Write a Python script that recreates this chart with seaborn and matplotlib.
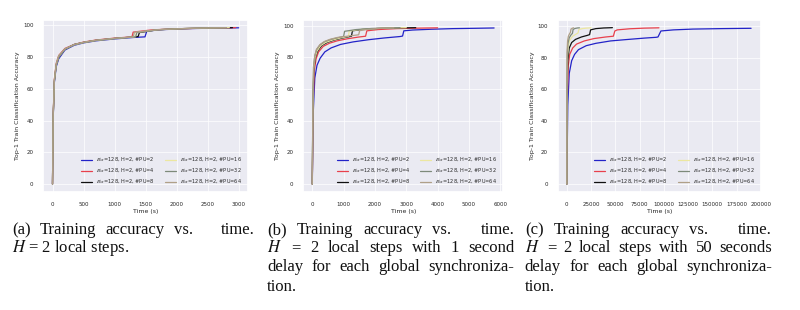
import numpy as np
import pandas as pd
import matplotlib
matplotlib.use("Agg")
import matplotlib.pyplot as plt
import seaborn as sns

# ---------------- data ----------------
labels = [r"$B_{loc}$=128, H=2, #PU=2", r"$B_{loc}$=128, H=2, #PU=4", r"$B_{loc}$=128, H=2, #PU=8",
          r"$B_{loc}$=128, H=2, #PU=16", r"$B_{loc}$=128, H=2, #PU=32", r"$B_{loc}$=128, H=2, #PU=64"]
colors = ["#2323c8", "#e8404c", "#111111", "#ece7a0", "#7d8a7a", "#b0a088"]

# panel (a): no delay
a_t = [
    [0, 10, 30, 60, 100, 200, 350, 500, 700, 1000, 1300, 1490, 1520, 1800, 2200, 2600, 3000],
    [0, 10, 30, 60, 100, 200, 350, 500, 700, 1000, 1280, 1300, 1600, 2000, 2500, 2950],
    [0, 10, 30, 60, 100, 200, 350, 500, 700, 1000, 1380, 1400, 1700, 2100, 2500, 2900],
    [0, 10, 30, 60, 100, 200, 350, 500, 700, 1000, 1330, 1350, 1700, 2100, 2500, 2850],
    [0, 10, 30, 60, 100, 200, 350, 500, 700, 1000, 1340, 1360, 1700, 2100, 2500, 2800],
    [0, 10, 30, 60, 100, 200, 350, 500, 700, 1000, 1300, 1320, 1700, 2100, 2500, 2800],
]
a_acc = [
    [0, 40, 64, 74, 79, 84.5, 87.5, 89, 90.3, 91.5, 92.4, 92.8, 96.5, 97.4, 98, 98.3, 98.5],
    [0, 42, 66, 76, 81, 85.5, 88, 89.5, 90.8, 92, 92.8, 95.8, 97.2, 97.9, 98.3, 98.6],
    [0, 41, 65, 75, 80, 85, 88, 89.3, 90.6, 91.8, 93, 95.5, 97.3, 98, 98.4, 98.6],
    [0, 41, 65, 75, 80, 85, 87.8, 89.2, 90.5, 91.7, 92.8, 95.6, 97.3, 98, 98.4, 98.6],
    [0, 41, 65, 75, 80, 85, 87.8, 89.2, 90.5, 91.7, 92.8, 95.6, 97.3, 98, 98.4, 98.6],
    [0, 42, 66, 76, 81, 85.3, 88, 89.4, 90.7, 91.9, 92.7, 95.7, 97.3, 98, 98.4, 98.6],
]

# panel (b): 1 s delay
b_t = [
    [0, 30, 80, 150, 250, 400, 600, 900, 1300, 1800, 2300, 2800, 2880, 2920, 3200, 3800, 4500, 5200, 5800],
    [0, 25, 60, 120, 200, 350, 550, 800, 1100, 1450, 1700, 1740, 2100, 2700, 3400, 4000],
    [0, 20, 50, 100, 170, 300, 480, 700, 950, 1250, 1280, 1600, 2100, 2700, 3300],
    [0, 20, 45, 90, 150, 270, 430, 650, 900, 1150, 1180, 1500, 2000, 2500, 3000],
    [0, 18, 40, 80, 140, 250, 400, 600, 850, 1000, 1030, 1400, 1900, 2400, 2800],
    [0, 18, 40, 80, 130, 240, 380, 560, 800, 1480, 1510, 1800, 2200, 2600],
]
b_acc = [
    [0, 45, 67, 75, 79.5, 83.5, 86, 88.2, 89.8, 91.2, 92.3, 93.2, 93.5, 96.8, 97.3, 97.8, 98.2, 98.4, 98.6],
    [0, 48, 71, 79, 83.5, 87, 89, 90.5, 91.7, 92.8, 93.4, 96.8, 97.6, 98.2, 98.5, 98.7],
    [0, 50, 73, 80, 84, 87.5, 89.5, 91, 92.2, 93.4, 96.8, 97.7, 98.3, 98.6, 98.8],
    [0, 50, 73, 80, 84, 87.5, 89.5, 91, 92.3, 93.3, 96.6, 97.6, 98.2, 98.6, 98.8],
    [0, 51, 74, 81, 85, 88, 90, 91.4, 92.6, 93.3, 96.5, 97.6, 98.3, 98.6, 98.8],
    [0, 51, 74, 81, 85, 88, 90, 91.4, 92.6, 94.3, 96.9, 97.8, 98.4, 98.7],
]

# panel (c): 50 s delay
c_t = [
    [0, 1000, 2500, 5000, 8000, 12000, 20000, 30000, 45000, 60000, 80000, 92000, 94000, 97000, 110000, 130000, 160000, 190000],
    [0, 500, 1500, 3000, 6000, 10000, 18000, 28000, 40000, 48000, 49500, 52000, 65000, 80000, 95000],
    [0, 300, 1000, 2500, 5000, 9000, 15000, 21000, 23500, 24500, 30000, 38000, 47000],
    [0, 200, 700, 1500, 3000, 6000, 10000, 11500, 12500, 16000, 20000, 25000],
    [0, 150, 500, 1200, 2500, 4500, 5800, 6500, 8500, 11000, 13000],
    [0, 100, 350, 800, 1600, 3000, 3700, 4300, 5500, 7000],
]
c_acc = [
    [0, 50, 70, 78, 82, 85, 87.5, 89, 90.5, 91.3, 92.3, 92.8, 93, 96.8, 97.5, 98, 98.3, 98.5],
    [0, 55, 75, 82, 86, 88.5, 90.5, 92, 93, 93.5, 96.8, 97.5, 98.2, 98.6, 98.8],
    [0, 60, 78, 86, 89.5, 91.5, 93, 94, 94.5, 97.5, 98.3, 98.7, 98.9],
    [0, 62, 80, 87, 91, 93.5, 95, 95.5, 97.8, 98.3, 98.6, 98.8],
    [0, 65, 83, 89, 92.5, 94.5, 95.3, 97.8, 98.4, 98.7, 98.8],
    [0, 68, 85, 90.5, 93.5, 95.3, 95.8, 98, 98.5, 98.8],
]

x_ticks = [
    [0, 500, 1000, 1500, 2000, 2500, 3000],
    [0, 1000, 2000, 3000, 4000, 5000, 6000],
    [0, 25000, 50000, 75000, 100000, 125000, 150000, 175000, 200000],
]
y_ticks = [0, 20, 40, 60, 80, 100]

captions = [
    ["(a) Training accuracy vs. time.", "$H$ = 2 local steps."],
    ["(b) Training accuracy vs. time.", "$H$ = 2 local steps with 1 second",
     "delay for each global synchroniza-", "tion."],
    ["(c) Training accuracy vs. time.", "$H$ = 2 local steps with 50 seconds",
     "delay for each global synchroniza-", "tion."],
]

# ---------------- plotting ----------------
sns.set_theme(style="darkgrid")
plt.rcParams["mathtext.fontset"] = "stix"

fig = plt.figure(figsize=(8.0, 3.1), dpi=100)
axes_pos = [
    [0.054, 0.381, 0.256, 0.555],
    [0.379, 0.381, 0.250, 0.555],
    [0.697, 0.381, 0.254, 0.555],
]
panels = [(a_t, a_acc), (b_t, b_acc), (c_t, c_acc)]

for i, (ts, accs) in enumerate(panels):
    ax = fig.add_axes(axes_pos[i])
    rows = []
    for k in range(len(labels)):
        for t, v in zip(ts[k], accs[k]):
            rows.append({"Time (s)": t, "acc": v, "run": labels[k]})
    df = pd.DataFrame(rows)
    sns.lineplot(data=df, x="Time (s)", y="acc", hue="run", palette=colors,
                 estimator=None, sort=True, linewidth=0.9, ax=ax, legend=True)
    ax.set_xticks(x_ticks[i])
    ax.set_yticks(y_ticks)
    ax.tick_params(labelsize=4, pad=1)
    ax.grid(linewidth=0.5)
    ax.set_xlabel("Time (s)", fontsize=4.5, labelpad=1.5)
    ax.set_ylabel("Top-1 Train Classification Accuracy", fontsize=4.5, labelpad=2)
    ax.legend(loc="lower right", ncol=2, fontsize=3.6, handlelength=2.2,
              columnspacing=2.0, frameon=False, borderaxespad=0.8)

# ---------------- justified captions (TeX-like: extra stretch after a period) ----------------
cap_x = [(0.015, 0.319), (0.334, 0.643), (0.656, 0.965)]
line_y = [0.258, 0.200, 0.139, 0.074]
fig.canvas.draw()
renderer = fig.canvas.get_renderer()
cap_font = dict(family="Liberation Serif", fontsize=12, color="#111111", va="center")

for i, lines in enumerate(captions):
    x0, x1 = cap_x[i]
    for j, line in enumerate(lines):
        last = (j == len(lines) - 1)
        if last:
            fig.text(x0, line_y[j], line, ha="left", **cap_font)
            continue
        words = line.split(" ")
        texts = [fig.text(x0, line_y[j], w, ha="left", **cap_font) for w in words]
        widths = [t.get_window_extent(renderer).width / fig.bbox.width for t in texts]
        weights = [3.0 if w.endswith(".") else 1.0 for w in words[:-1]]
        unit = (x1 - x0 - sum(widths)) / sum(weights)
        x = x0
        for k, (t, w) in enumerate(zip(texts, widths)):
            t.set_x(x)
            if k < len(weights):
                x += w + unit * weights[k]

fig.savefig("out.png", dpi=100)
